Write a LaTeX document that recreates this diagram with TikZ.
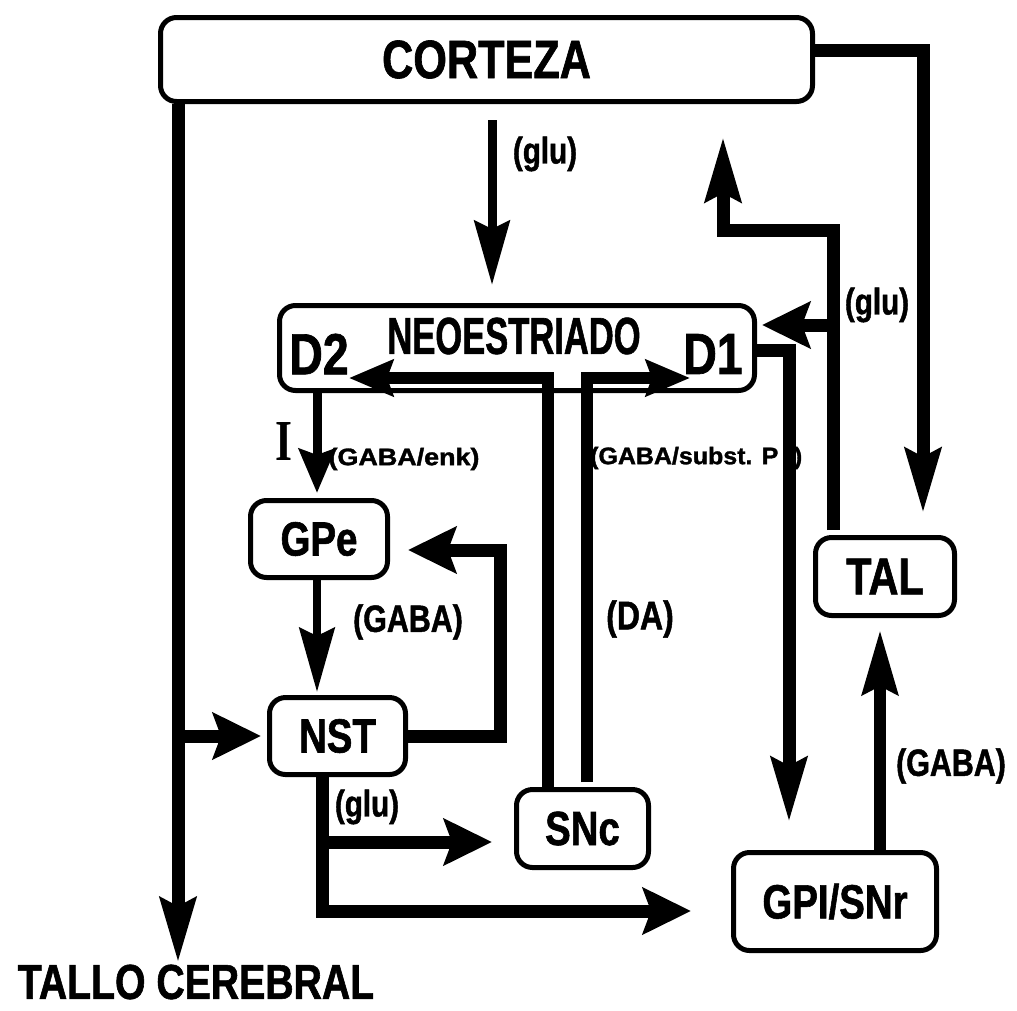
\documentclass[tikz,border=0pt]{standalone}
\usepackage{fontspec}
\usetikzlibrary{arrows.meta}
\newfontfamily\lab{Liberation Sans}[FakeStretch=0.8,BoldFeatures={FakeStretch=0.8,FakeBold=1.2}]
\newfontfamily\serifI{Liberation Serif}
\newcommand\fsz[1]{\fontsize{#1pt}{#1pt}\selectfont}

\begin{document}
\begin{tikzpicture}[x=1pt,y=-1pt,
  box/.style={draw, line width=5pt, rounded corners=16pt, inner sep=0pt, font=\lab\bfseries\fsz{48}},
  lbl/.style={inner sep=0pt, font=\lab\bfseries\fsz{#1}},
  bus/.style={line width=13pt},
  midline/.style={line width=9pt},
  hd/.style={-{Stealth[length=64pt,width=35pt,inset=8pt]}},
  hds/.style={-{Stealth[length=44pt,width=36pt,inset=6pt]}},
  hdw/.style={-{Stealth[length=48pt,width=46pt,inset=8pt]}}]
\fill[white] (0,0) rectangle (1017,1010);
\useasboundingbox (0,0) rectangle (1017,1010);

% structures
\node[box, minimum width=652pt, minimum height=84pt, font=\lab\bfseries\fsz{54}] (corteza) at (486.5,59.5) {CORTEZA};
\node[box, minimum width=475pt, minimum height=85pt] (neo) at (517,348) {};
\node[lbl=52] (neotitle) at (514,336) {\scalebox{0.83}[1]{NEOESTRIADO}};
\node[lbl=58] (d2) at (319,354) {D2};
\node[lbl=58] (d1) at (713,354) {D1};
\node[box, minimum width=137pt, minimum height=77pt] (gpe) at (319,539) {GPe};
\node[box, minimum width=136pt, minimum height=77pt] (nst) at (337.5,736) {NST};
\node[box, minimum width=132pt, minimum height=78pt] (snc) at (582.5,828.5) {SNc};
\node[box, minimum width=139pt, minimum height=78pt, font=\lab\bfseries\fsz{52}] (tal) at (885,576.5) {TAL};
\node[box, minimum width=203pt, minimum height=98pt] (gpi) at (835,901.5) {GPI/SNr};
\node[lbl=49] (tallo) at (196,982) {TALLO CEREBRAL};

% transmitter labels
\node[lbl=37] (gluctx) at (545,154) {(glu)};
\node[lbl=37] (glutal) at (877,305) {(glu)};
\node[lbl=24] (enk) at (404,459) {\scalebox{1.4}[1]{(GABA/enk)}};
\node[inner sep=0pt, font=\serifI\bfseries\fsz{58}] (inh) at (284,442) {\scalebox{0.75}[1]{I}};
\node[lbl=24, anchor=west] (subp) at (590,458) {\scalebox{1.3}[1]{(GABA/subst. P\kern12pt)}};
\node[lbl=38] (gabagpe) at (408,622) {(GABA)};
\node[lbl=40] (da) at (640,619) {(DA)};
\node[lbl=38] (gabagpi) at (951,766) {(GABA)};
\node[lbl=37] (glunst) at (367,807) {(glu)};

% routing points
\coordinate (xL) at (178,0);
\coordinate (xG) at (492,0);
\coordinate (xR) at (923,0);
\coordinate (talbend) at (833,230);
\coordinate (xU) at (723,0);
\coordinate (gluD1) at (833,325);
\coordinate (xD1) at (789,0);
\coordinate (xT2) at (880,0);
\coordinate (xS1) at (548,0);
\coordinate (xS2) at (587,0);
\coordinate (d2in) at (349,378);
\coordinate (d1in) at (690,378);
\coordinate (xD2) at (317,0);
\coordinate (loopc) at (500,550);
\coordinate (xN) at (322,0);
\coordinate (yS) at (0,842);
\coordinate (yG) at (0,911);

% cortex outputs
\draw[bus,hd,shorten >=2pt] (corteza.south -| xL) -- (xL |- tallo.north);
\draw[bus,hdw,shorten >=6pt] (xL |- nst.west) -- (nst.west);
\draw[midline,hd,shorten <=16pt,shorten >=18pt] (corteza.south -| xG) -- (neo.north -| xG);
\draw[bus,hd,shorten >=22pt] ([yshift=9.5pt]corteza.east) -| (tal.north -| xR);

% thalamic outputs
\draw[bus,hd,shorten <=5pt,shorten >=33pt] (tal.north -| talbend) -- (talbend) -| (corteza.south -| xU);
\draw[bus,hdw,shorten >=5pt] (gluD1) -- (gluD1 -| neo.east);

% striatal outputs
\draw[bus,hd,shorten >=28pt] ([yshift=-2pt]neo.east) -| (xD1 |- gpi.north);
\draw[midline,hds,shorten >=5pt] (neo.south -| xD2) -- (gpe.north -| xD2);

% pallidal / nigral outputs
\draw[line width=12pt,hd,shorten >=12pt] (gpi.north -| xT2) -- (tal.south -| xT2);
\draw[line width=8pt,hd,shorten >=3pt] (gpe.south -| xD2) -- (nst.north -| xD2);
\draw[line width=12pt,hds] (snc.north -| xS1) |- (d2in);
\draw[line width=12pt,hds,shorten <=5pt] (snc.north -| xS2) |- (d1in);

% subthalamic outputs
\draw[bus,hdw,shorten >=18pt] (nst.east) -| (loopc) -- (loopc -| gpe.east);
\draw[bus,hdw,shorten >=22pt] (nst.south -| xN) |- (snc.west |- yS);
\draw[bus,hdw,shorten >=40pt] (nst.south -| xN) |- (gpi.west |- yG);
\end{tikzpicture}
\end{document}
